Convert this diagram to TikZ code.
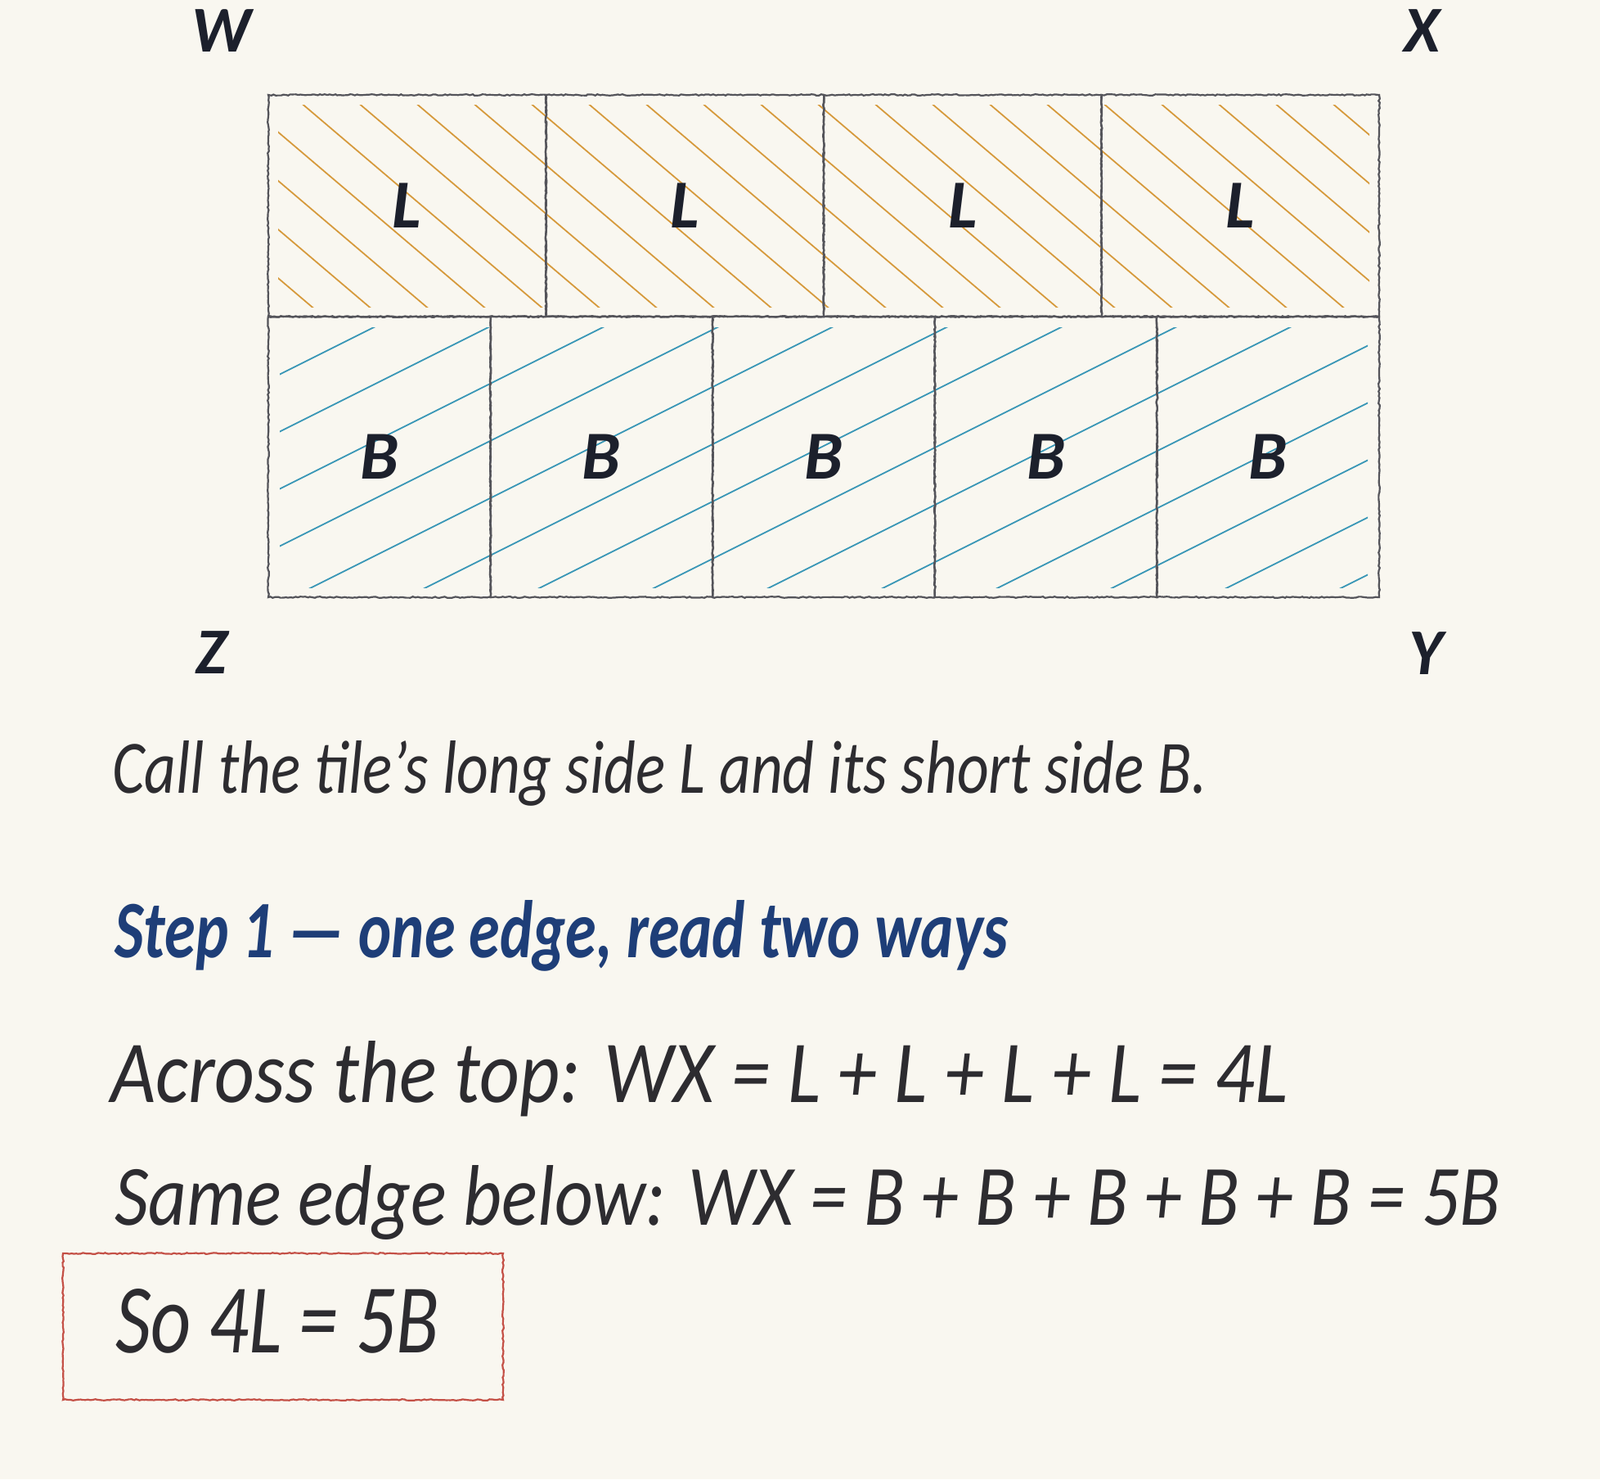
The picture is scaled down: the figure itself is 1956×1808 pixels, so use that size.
\documentclass[tikz,border=0pt]{standalone}
\usepackage{fontspec}
\setmainfont{Carlito}
\usepackage{graphicx}
\usetikzlibrary{decorations.pathmorphing}
\definecolor{paper}{RGB}{249,247,240}
\definecolor{pencil}{RGB}{84,84,90}
\definecolor{ink}{RGB}{45,44,48}
\definecolor{labelink}{RGB}{28,32,44}
\definecolor{stepblue}{RGB}{30,62,120}
\definecolor{hatchL}{RGB}{214,154,60}
\definecolor{hatchB}{RGB}{56,150,182}
\definecolor{boxred}{RGB}{196,80,70}
\newcommand{\fitline}[3]{\resizebox{#1}{#2}{#3}}
\begin{document}
\begin{tikzpicture}[x=1pt,y=-1pt,
  sketch/.style={decorate, decoration={random steps, segment length=3pt, amplitude=0.8pt}},
  tilebase/.style={draw=pencil, line width=2.2pt, sketch, inner sep=0pt, outer sep=0pt, text=labelink,
    font=\fontsize{84}{84}\selectfont\bfseries\itshape},
  ltile/.style={tilebase, minimum width=339.5pt, minimum height=271pt},
  btile/.style={tilebase, minimum width=271.6pt, minimum height=343pt},
  hatchLline/.style={draw=hatchL, line width=1.8pt, line cap=round},
  hatchBline/.style={draw=hatchB, line width=1.8pt, line cap=round},
  corner/.style={inner sep=0pt, text=labelink, font=\fontsize{80}{80}\selectfont\bfseries\itshape},
  txt/.style={inner sep=0pt, anchor=base west, text=ink, font=\fontsize{60}{60}\selectfont\itshape},
  redbox/.style={draw=boxred, line width=2.2pt, sketch, minimum width=538pt, minimum height=179pt, inner sep=0pt}
]
\fill[paper] (0,0) rectangle (1956,1808);
\useasboundingbox (0,0) rectangle (1956,1808);

% hatching of the L row
\begin{scope}
  \clip (340,128) rectangle (1674,375);
  \foreach \k in {-5,...,19}
    \draw[hatchLline] ({333+70*\k},96) -- ++(400,340);
\end{scope}
% hatching of the B row
\begin{scope}
  \clip (342,400) rectangle (1672,718);
  \foreach \k in {-1,...,13}
    \draw[hatchBline] (328,{464.5+70*\k}) -- ++(1358,-679);
\end{scope}

% tiles
\node[ltile] (L1) at (497.75,251.5) {L};
\node[ltile] (L2) at (837.25,251.5) {L};
\node[ltile] (L3) at (1176.75,251.5) {L};
\node[ltile] (L4) at (1516.25,251.5) {L};

\node[btile] (B1) at (463.8,558.5) {B};
\node[btile] (B2) at (735.4,558.5) {B};
\node[btile] (B3) at (1007,558.5) {B};
\node[btile] (B4) at (1278.6,558.5) {B};
\node[btile] (B5) at (1550.2,558.5) {B};

% corner labels
\node[corner, anchor=base] (W) at (271,63) {W};
\node[corner, anchor=base] (X) at (1739,63) {X};
\node[corner, anchor=base] (Z) at (259,823) {Z};
\node[corner, anchor=base] (Y) at (1743,824) {Y};

% text
\node[txt] (intro) at (137,969) {\fitline{1339pt}{64pt}{Call the tile’s long side L and its short side B.}};
\node[txt, text=stepblue, font=\fontsize{60}{60}\selectfont\bfseries\itshape] (step) at (140,1170)
  {\fitline{1092pt}{70pt}{Step 1 — one edge, read two ways}};
\node[txt] (across) at (135,1347) {\fitline{1439pt}{75pt}{Across the top: WX = L + L + L + L = 4L}};
\node[txt] (same) at (140,1497) {\fitline{1694pt}{73pt}{Same edge below: WX = B + B + B + B + B = 5B}};

\node[redbox] (answerbox) at (346,1621.5) {};
\node[txt] (answer) at (141,1653) {\fitline{395pt}{78pt}{So 4L = 5B}};
\end{tikzpicture}
\end{document}
